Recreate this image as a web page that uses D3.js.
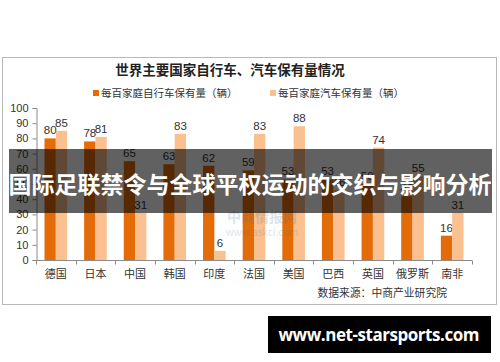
<!DOCTYPE html>
<html>
<head>
<meta charset="utf-8">
<script src="https://cdn.jsdelivr.net/npm/d3@7"></script>
<style>
  body { margin: 0; background: #fff; }
  svg { display: block; font-family: "Noto Sans CJK SC", "Liberation Sans", sans-serif; }
</style>
</head>
<body>
<div id="chart"></div>
<script>
var countries = ["德国", "日本", "中国", "韩国", "印度", "法国", "美国", "巴西", "英国", "俄罗斯", "南非"];
var bikes = [80, 78, 65, 63, 62, 59, 53, 53, 50, 42, 16];
var cars = [85, 81, 31, 83, 6, 83, 88, 46, 74, 55, 31];
var seriesNames = ["每百家庭自行车保有量（辆）", "每百家庭汽车保有量（辆）"];
var yTicks = [0, 10, 20, 30, 40, 50, 60, 70, 80, 90, 100];

document.addEventListener("DOMContentLoaded", function () {
    drawChart();
});

function drawChart() {
    const width = 500, height = 362;
    const colors = ["#E36C09", "#FAC08F"];

    var svg = d3.select("#chart")
        .append("svg")
            .attr("width", width)
            .attr("height", height);

    // chart frame
    svg.append("rect")
        .attr("x", 2.5).attr("y", 57.5)
        .attr("width", 494).attr("height", 247)
        .attr("fill", "#fff")
        .attr("stroke", "#b8b8b8");

    // title
    svg.append("text")
        .attr("x", 230).attr("y", 75)
        .attr("text-anchor", "middle")
        .style("font-size", "13.5px")
        .style("font-weight", "bold")
        .style("fill", "#222")
        .text("世界主要国家自行车、汽车保有量情况");

    // legend
    var legendX = [93, 270];
    seriesNames.forEach(function (name, i) {
        svg.append("rect")
            .attr("x", legendX[i]).attr("y", 90)
            .attr("width", 6).attr("height", 6)
            .attr("fill", colors[i]);
        svg.append("text")
            .attr("x", legendX[i] + 8).attr("y", 97)
            .style("font-size", "10.5px")
            .style("fill", "#333")
            .text(name);
    });

    //x scale by country
    var xScale = d3.scaleBand()
        .domain(countries)
        .range([36, 472]);

    var xInner = d3.scaleBand()
        .domain([0, 1])
        .range([0, xScale.bandwidth()])
        .paddingOuter(0.75);

    //y scale
    var yScale = d3.scaleLinear()
        .domain([0, 100])
        .range([260, 108]);

    // y axis
    var yAxis = svg.append("g")
        .attr("transform", "translate(36.5,0)")
        .call(d3.axisLeft(yScale).tickValues(yTicks).tickSize(4).tickSizeOuter(4));
    yAxis.selectAll("path, line").attr("stroke", "#8a8a8a");
    yAxis.selectAll("text")
        .style("font-family", "'Liberation Sans', Arial, sans-serif")
        .style("font-size", "11px")
        .style("fill", "#333")
        .attr("x", -8);

    // x axis
    var xAxis = svg.append("g")
        .attr("transform", "translate(0,260.5)");
    xAxis.append("line")
        .attr("x1", 36).attr("x2", 472)
        .attr("stroke", "#8a8a8a");
    xAxis.selectAll(".tk")
        .data(countries.concat(["end"]))
        .join("line")
        .attr("class", "tk")
        .attr("x1", (d, i) => Math.round(36 + i * xScale.step()) + 0.5)
        .attr("x2", (d, i) => Math.round(36 + i * xScale.step()) + 0.5)
        .attr("y1", 0).attr("y2", 4)
        .attr("stroke", "#8a8a8a");
    xAxis.selectAll(".lbl")
        .data(countries)
        .join("text")
        .attr("class", "lbl")
        .attr("x", d => xScale(d) + xScale.bandwidth() / 2)
        .attr("y", 17)
        .attr("text-anchor", "middle")
        .style("font-size", "11px")
        .style("fill", "#333")
        .text(d => d);

    // bars
    var series = [bikes, cars];
    series.forEach(function (vals, s) {
        svg.selectAll(".bar" + s)
            .data(vals)
            .join("rect")
            .attr("class", "bar" + s)
            .attr("x", (d, i) => xScale(countries[i]) + xInner(s))
            .attr("y", d => yScale(d))
            .attr("width", xInner.bandwidth())
            .attr("height", d => yScale(0) - yScale(d))
            .attr("fill", colors[s]);

        svg.selectAll(".val" + s)
            .data(vals)
            .join("text")
            .attr("class", "val" + s)
            .attr("x", (d, i) => xScale(countries[i]) + xInner(s) + xInner.bandwidth() / 2)
            .attr("y", d => yScale(d) - 4)
            .attr("text-anchor", "middle")
            .style("font-family", "'Liberation Sans', Arial, sans-serif")
            .style("font-size", "11.5px")
            .style("fill", "#333")
            .text(d => d);
    });

    // faint watermark
    svg.append("text")
        .attr("x", 262).attr("y", 222)
        .attr("text-anchor", "middle")
        .style("font-size", "14px")
        .style("font-weight", "bold")
        .style("fill", "#2e6f98")
        .style("opacity", 0.18)
        .text("中商情报网");
    svg.append("text")
        .attr("x", 262).attr("y", 236)
        .attr("text-anchor", "middle")
        .style("font-size", "10px")
        .style("fill", "#2e6f98")
        .style("opacity", 0.18)
        .text("www.askci.com");

    // source
    svg.append("text")
        .attr("x", 447).attr("y", 297)
        .attr("text-anchor", "end")
        .style("font-size", "10.8px")
        .style("fill", "#333")
        .text("数据来源：中商产业研究院");

    // overlay banner
    svg.append("rect")
        .attr("x", 9).attr("y", 149)
        .attr("width", 483).attr("height", 64)
        .attr("fill", "#000")
        .attr("opacity", 0.62);
    svg.append("text")
        .attr("x", 250).attr("y", 193)
        .attr("text-anchor", "middle")
        .style("font-size", "23px")
        .style("font-weight", "bold")
        .style("fill", "#fff")
        .text("国际足联禁令与全球平权运动的交织与影响分析");

    // site badge
    svg.append("rect")
        .attr("x", 268).attr("y", 316)
        .attr("width", 223).attr("height", 37)
        .attr("fill", "#000");
    svg.append("text")
        .attr("x", 379).attr("y", 341)
        .attr("text-anchor", "middle")
        .attr("textLength", 201)
        .style("font-family", "'Open Sans', 'DejaVu Sans', sans-serif")
        .style("font-size", "17px")
        .style("font-weight", "bold")
        .style("fill", "#fff")
        .text("www.net-starsports.com");
}
</script>
</body>
</html>
